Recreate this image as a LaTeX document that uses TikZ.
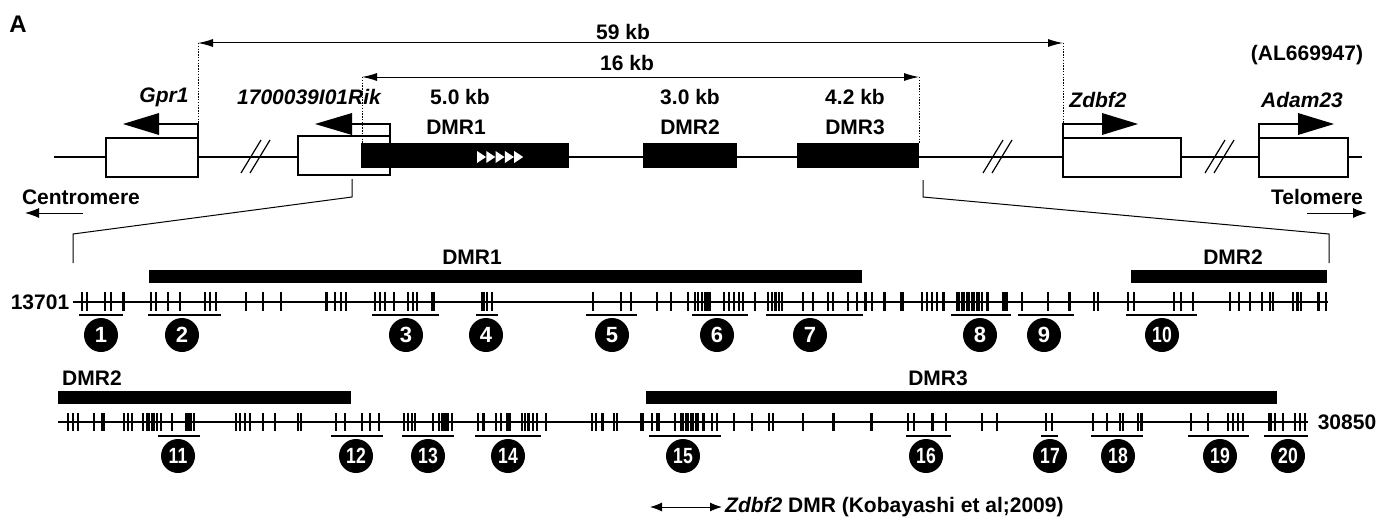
\documentclass[tikz,border=0pt]{standalone}
\usepackage{fontspec}
\usepackage{graphicx}
\setmainfont{Liberation Sans}
\usetikzlibrary{arrows.meta}
\begin{document}
\begin{tikzpicture}[x=1pt,y=-1pt,
  every node/.style={font=\fontsize{21}{25}\selectfont\bfseries, inner sep=0pt},
  genelbl/.style={font=\fontsize{21}{25}\selectfont\bfseries\itshape},
  backbone/.style={line width=2pt},
  genebox/.style={draw, line width=2.5pt, fill=white},
  dmrbox/.style={fill=black, draw=none},
  dimline/.style={line width=1pt, {Latex[length=15pt,width=8pt]}-{Latex[length=15pt,width=8pt]}},
  guide/.style={line width=1pt, dash pattern=on 1.4pt off 1.4pt},
  bent/.style={line width=2.5pt},
  bighead/.style={fill=black},
  brk/.style={line width=1.2pt},
  zoomline/.style={line width=1pt},
  endarrow/.style={line width=1pt, -{Latex[length=14pt,width=10pt]}},
  rowline/.style={line width=2pt},
  tick/.style={line width=1.2pt},
  thicktick/.style={line width=3pt},
  region/.style={fill=black},
  uline/.style={line width=2pt},
  numcirc/.style={circle, fill=black, text=white, minimum size=34pt, font=\fontsize{22}{22}\selectfont\bfseries}
]
\fill[white] (0,0) rectangle (1391,519);
\path[use as bounding box] (0,0) rectangle (1391,519);

% panel label
\node[font=\fontsize{24}{28}\selectfont\bfseries] (panelA) at (18,24) {A};

% ===== top map =====
\draw[backbone] (54,157) -- (1362,157);
% breaks
\foreach \x in {241,983,1205}{
  \draw[brk] (\x,173) -- (\x+20,140);
  \draw[brk] (\x+9,173) -- (\x+29,140);
}
% gene boxes
\node[genebox, minimum width=92pt, minimum height=39pt] (gpr1) at (152,157.5) {};
\node[genebox, minimum width=92pt, minimum height=39pt] (rik) at (344,155.5) {};
\node[genebox, minimum width=118pt, minimum height=39pt] (zdbf2) at (1122,157.5) {};
\node[genebox, minimum width=89pt, minimum height=39pt] (adam23) at (1303.5,157.5) {};
% DMR boxes
\node[dmrbox, minimum width=208pt, minimum height=25pt] (dmr1) at (465,155.5) {};
\node[dmrbox, minimum width=94pt, minimum height=25pt] (dmr2) at (690,155.5) {};
\node[dmrbox, minimum width=122pt, minimum height=25pt] (dmr3) at (858,155.5) {};
% white triangles in DMR1
\foreach \i in {0,...,4}{
  \fill[white] (477+\i*9.3,151) -- (477+\i*9.3+9,157) -- (477+\i*9.3,163) -- cycle;
}
% bent arrows
\draw[bent] (198,138) -- (198,124) -- (158,124);
\fill[bighead] (159,113) -- (123,124) -- (159,135) -- cycle;
\draw[bent] (390,136) -- (390,124) -- (351,124);
\fill[bighead] (352,113) -- (315,124) -- (352,135) -- cycle;
\draw[bent] (1063,138) -- (1063,124) -- (1103,124);
\fill[bighead] (1102,113) -- (1138,124) -- (1102,135) -- cycle;
\draw[bent] (1259,138) -- (1259,124) -- (1299,124);
\fill[bighead] (1298,113) -- (1334,124) -- (1298,135) -- cycle;
% gene labels
\node[genelbl] (lgpr1) at (164,97) {Gpr1};
\node[genelbl] (lrik) at (309,97) {1700039I01Rik};
\node[genelbl] (lzdbf2) at (1098,100) {Zdbf2};
\node[genelbl] (ladam) at (1302,100) {Adam23};
% DMR labels
\node (s1) at (460,97) {5.0 kb};
\node (d1) at (456,127) {DMR1};
\node (s2) at (690,97) {3.0 kb};
\node (d2) at (690,127) {DMR2};
\node (s3) at (855,97) {4.2 kb};
\node (d3) at (855,127) {DMR3};
\node (acc) at (1307,55) {(AL669947)};
% dimension arrows
\coordinate (a59L) at (198,43);
\coordinate (a59R) at (1063,43);
\coordinate (a16L) at (362,77);
\coordinate (a16R) at (919,77);
\coordinate (g59L) at (198,124);
\coordinate (g59R) at (1063,124);
\coordinate (g16L) at (362,143);
\coordinate (g16R) at (919,143);
\draw[dimline] (a59L) -- (a59R);
\draw[dimline] (a16L) -- (a16R);
\node (l59) at (623,32) {59 kb};
\node (l16) at (627,63) {16 kb};
\draw[guide] (a59L) -- (g59L);
\draw[guide] (a59R) -- (g59R);
\draw[guide] (a16L) -- (g16L);
\draw[guide] (a16R) -- (g16R);
% centromere / telomere
\node (cen) at (81,197) {Centromere};
\node (tel) at (1317,197) {Telomere};
\coordinate (cenA) at (83,213);
\coordinate (cenB) at (25,213);
\coordinate (telA) at (1307,213);
\coordinate (telB) at (1367,213);
\draw[endarrow] (cenA) -- (cenB);
\draw[endarrow] (telA) -- (telB);
% zoom lines
\coordinate (zl0) at (352,179);
\coordinate (zl1) at (352,197);
\coordinate (zl2) at (73,234);
\coordinate (zl3) at (73,263);
\coordinate (zr0) at (923,180);
\coordinate (zr1) at (923,197);
\coordinate (zr2) at (1329,234);
\coordinate (zr3) at (1329,263);
\draw[zoomline] (zl0) -- (zl1) -- (zl2) -- (zl3);
\draw[zoomline] (zr0) -- (zr1) -- (zr2) -- (zr3);

% ===== row 1 =====
\fill[region] (149,270) rectangle (862,283);
\fill[region] (1131,270) rectangle (1327,283);
\node (r1d1) at (472,257) {DMR1};
\node (r1d2) at (1233,257) {DMR2};
\node (n13701) at (40,302) {13701};
\draw[rowline] (73,302) -- (1328,302);
\foreach \x in {82,87,105,111,151,156,168,180,205,210,216,246,263,281,335,341,346,375,380,385,394,408,413,417,432,434,482,484,487,492,593,621,631,657,671,688,695,698,702,705,710,724,729,734,739,743,755,768,772,779,782,803,813,828,833,848,857,872,901,903,922,927,932,937,957,959,962,964,967,969,972,974,977,979,982,1022,1048,1094,1098,1128,1134,1174,1181,1193,1230,1239,1250,1262,1270,1273,1293,1301,1326}
  \draw[tick] (\x,292) -- (\x,311);
\foreach \x in {123,326,707,775,865,884,943,987,1069,1297,1318}
  \draw[thicktick] (\x,292) -- (\x,311);
\fill (1002,292) rectangle (1008,311);
\foreach \a/\b in {79/123,148/221,372/439,476/498,586/637,692/748,766/863,951/1011,1018/1074,1126/1197}
  \draw[uline] (\a,315) -- (\b,315);
\foreach \n/\x in {1/101,2/182,3/406,4/486,5/612,6/717,7/810,8/980,9/1044}
  \node[numcirc] (c\n) at (\x,335) {\n};
\node[numcirc] (c10) at (1162,335) {\scalebox{0.8}[1]{10}};

% ===== row 2 =====
\fill[region] (58,391) rectangle (351,404);
\fill[region] (646,391) rectangle (1277,404);
\node (r2d2) at (92,378) {DMR2};
\node (r2d3) at (938,378) {DMR3};
\node (n30850) at (1347,422) {30850};
\draw[rowline] (58,422) -- (1308,422);
\foreach \x in {68,73,78,94,124,128,132,143,147,149,152,154,157,161,172,194,236,240,245,250,263,275,298,301,336,345,362,370,379,404,408,412,415,433,439,442,444,452,478,496,501,507,522,525,533,537,546,592,596,614,617,641,643,652,657,659,675,681,683,686,688,691,693,696,698,712,717,734,752,769,773,803,908,914,946,982,997,1046,1052,1093,1107,1120,1123,1138,1191,1208,1228,1233,1238,1243,1275,1283,1295,1300,1305}
  \draw[tick] (\x,413) -- (\x,431);
\foreach \x in {483,509,528,602,703,833,871,932,1141}
  \draw[thicktick] (\x,413) -- (\x,431);
\foreach \a/\b in {101/105,185/192,445/449,1268/1272}
  \fill (\a,413) rectangle (\b,431);
\foreach \a/\b in {158/200,331/383,402/454,475/541,649/721,906/951,1041/1058,1091/1143,1188/1249,1264/1308}
  \draw[uline] (\a,436) -- (\b,436);
\foreach \n/\x in {11/178,12/356,13/428,14/508,15/683,16/926,17/1050,18/1118,19/1220,20/1288}
  \node[numcirc] (c\n) at (\x,456) {\scalebox{0.8}[1]{\n}};

% ===== bottom legend =====
\coordinate (kA) at (650,507);
\coordinate (kB) at (722,507);
\draw[line width=1pt, {Latex[length=12pt,width=9pt]}-{Latex[length=12pt,width=9pt]}] (kA) -- (kB);
\node[anchor=west] (kob) at (725,507) {\textit{Zdbf2} DMR (Kobayashi et al;2009)};
\end{tikzpicture}
\end{document}
